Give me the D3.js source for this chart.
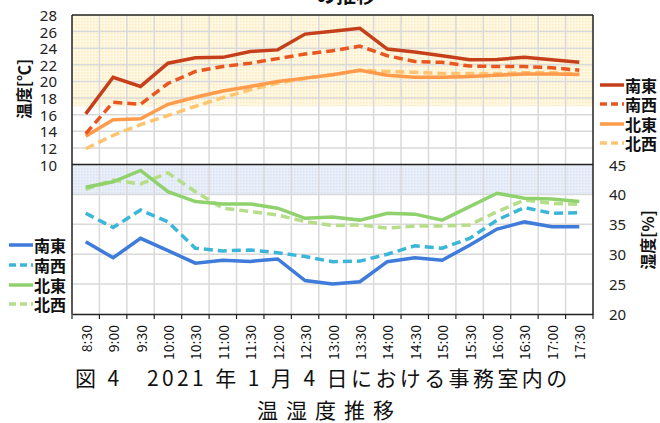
<!DOCTYPE html>
<html>
<head>
<meta charset="utf-8">
<script src="https://cdn.jsdelivr.net/npm/d3@7"></script>
<style>
  body { margin: 0; background: #fff; }
  svg { display: block; }
  .num { font-family: "Noto Sans", "Liberation Sans", sans-serif; font-size: 15px; fill: #222; }
  .jp { font-family: "Noto Sans CJK JP", sans-serif; fill: #111; }
</style>
</head>
<body>
<svg id="chart" width="660" height="423"></svg>
<script>
// Data
const times = ['8:30', '9:00', '9:30', '10:00', '10:30', '11:00', '11:30', '12:00', '12:30', '13:00',
               '13:30', '14:00', '14:30', '15:00', '15:30', '16:00', '16:30', '17:00', '17:30'];

const tempSE = [16.1, 20.5, 19.4, 22.2, 22.85, 22.9, 23.6, 23.8, 25.7, 26.05, 26.4, 23.9, 23.55, 23.1, 22.6, 22.65, 22.9, 22.6, 22.3];
const tempSW = [13.7, 17.5, 17.25, 19.75, 21.2, 21.8, 22.2, 22.75, 23.3, 23.7, 24.25, 23.1, 22.4, 22.3, 21.85, 21.8, 21.8, 21.65, 21.35];
const tempNE = [13.4, 15.4, 15.5, 17.25, 18.1, 18.85, 19.4, 20.0, 20.4, 20.8, 21.35, 20.75, 20.5, 20.5, 20.6, 20.75, 20.9, 20.9, 20.85];
const tempNW = [11.9, 13.5, 14.8, 15.9, 17.0, 18.05, 19.0, 19.8, 20.35, 20.8, 21.35, 21.2, 21.1, 20.95, 20.95, 20.95, 21.05, 21.05, 20.9];

const humSE = [32.1, 29.4, 32.65, 30.6, 28.5, 29.0, 28.8, 29.2, 25.6, 25.0, 25.4, 28.75, 29.4, 29.0, 31.5, 34.2, 35.4, 34.6, 34.6];
const humSW = [36.85, 34.45, 37.4, 35.4, 31.0, 30.55, 30.7, 30.25, 29.6, 28.75, 28.85, 30.0, 31.4, 31.0, 32.65, 35.7, 37.8, 36.85, 36.95];
const humNE = [41.2, 42.1, 44.0, 40.45, 38.8, 38.4, 38.4, 37.7, 36.0, 36.2, 35.7, 36.85, 36.7, 35.7, 37.95, 40.2, 39.35, 39.25, 38.8];
const humNW = [40.85, 42.4, 41.75, 43.6, 40.45, 37.7, 37.15, 36.55, 35.45, 34.8, 34.9, 34.35, 34.7, 34.7, 34.9, 37.1, 39.05, 38.5, 38.35];

const tempTicks = [10, 12, 14, 16, 18, 20, 22, 24, 26, 28];
const humTicks = [20, 25, 30, 35, 40, 45];
const names = ['南東', '南西', '北東', '北西'];

// Layout
const plot = { left: 72, right: 593, top: 15, bottom: 314 };

const svg = d3.select('#chart');

const x = d3.scaleBand().domain(times).range([plot.left, plot.right]);
const yT = d3.scaleLinear().domain([-8, 28]).range([plot.bottom, plot.top]);
const yH = d3.scaleLinear().domain([20, 70]).range([plot.bottom, plot.top]);

// dotted background patterns
const defs = svg.append('defs');
function dotPattern(id, base, dot) {
    const p = defs.append('pattern').attr('id', id)
        .attr('width', 3).attr('height', 3).attr('patternUnits', 'userSpaceOnUse');
    p.append('rect').attr('width', 3).attr('height', 3).attr('fill', base);
    p.append('rect').attr('width', 1.5).attr('height', 1.5).attr('fill', dot);
}
dotPattern('yellowDots', '#FFF8E4', '#FDEBBD');
dotPattern('blueDots', '#E9EFF9', '#D9E3F3');

// comfort bands
svg.append('rect')
    .attr('x', plot.left).attr('width', plot.right - plot.left)
    .attr('y', yT(28)).attr('height', yT(17) - yT(28))
    .attr('fill', 'url(#yellowDots)');
svg.append('rect')
    .attr('x', plot.left).attr('width', plot.right - plot.left)
    .attr('y', yH(45)).attr('height', yH(40) - yH(45))
    .attr('fill', 'url(#blueDots)');

// gridlines
const grid = svg.append('g').attr('stroke', '#D9D9D9').attr('stroke-width', 1.5);
grid.selectAll('.gv')
    .data(times.slice(1))
    .enter().append('line')
    .attr('x1', d => x(d)).attr('x2', d => x(d))
    .attr('y1', plot.top).attr('y2', plot.bottom);
grid.selectAll('.gt')
    .data(tempTicks.filter(t => t > 10 && t < 28))
    .enter().append('line')
    .attr('x1', plot.left).attr('x2', plot.right)
    .attr('y1', d => yT(d)).attr('y2', d => yT(d));
grid.selectAll('.gh')
    .data(humTicks.filter(t => t > 20 && t < 45))
    .enter().append('line')
    .attr('x1', plot.left).attr('x2', plot.right)
    .attr('y1', d => yH(d)).attr('y2', d => yH(d));

// frame
const frame = svg.append('g').attr('stroke', '#222').attr('stroke-width', 1.5).attr('fill', 'none');
frame.append('line').attr('x1', plot.left).attr('x2', plot.right).attr('y1', yT(28)).attr('y2', yT(28));
frame.append('line').attr('x1', plot.left).attr('x2', plot.right).attr('y1', yT(10)).attr('y2', yT(10));
frame.append('line').attr('x1', plot.left).attr('x2', plot.left).attr('y1', plot.top).attr('y2', plot.bottom);
frame.append('line').attr('x1', plot.right).attr('x2', plot.right).attr('y1', plot.top).attr('y2', plot.bottom);

// bottom axis
const xAxis = svg.append('g')
    .attr('transform', `translate(0,${plot.bottom})`)
    .call(d3.axisBottom(x).tickSize(0).tickFormat(''));
xAxis.select('.domain').attr('stroke', '#222').attr('stroke-width', 1.5);
svg.append('g').attr('stroke', '#222').attr('stroke-width', 1.2)
    .selectAll('line')
    .data(times.concat(['end']))
    .enter().append('line')
    .attr('x1', (d, i) => plot.left + i * x.bandwidth())
    .attr('x2', (d, i) => plot.left + i * x.bandwidth())
    .attr('y1', plot.bottom).attr('y2', plot.bottom + 5);

svg.append('g').selectAll('text')
    .data(times)
    .enter().append('text')
    .attr('class', 'jp')
    .attr('font-size', 14)
    .attr('text-anchor', 'end')
    .attr('dominant-baseline', 'central')
    .attr('transform', d => `translate(${x(d) + x.bandwidth() / 2},325) rotate(-90)`)
    .text(d => d);

// y axes labels
svg.append('g').selectAll('text')
    .data(tempTicks)
    .enter().append('text')
    .attr('class', 'num')
    .attr('x', 57).attr('y', d => yT(d))
    .attr('text-anchor', 'end')
    .attr('dominant-baseline', 'central')
    .text(d => d);
svg.append('g').selectAll('text')
    .data(humTicks)
    .enter().append('text')
    .attr('class', 'num')
    .attr('x', 609).attr('y', d => yH(d))
    .attr('dominant-baseline', 'central')
    .text(d => d);

svg.append('text').attr('class', 'jp')
    .attr('font-size', 16).attr('font-weight', 'bold')
    .attr('text-anchor', 'middle').attr('dominant-baseline', 'central')
    .attr('transform', 'translate(23,89) rotate(-90)')
    .text('温度[℃]');
svg.append('text').attr('class', 'jp')
    .attr('font-size', 16).attr('font-weight', 'bold')
    .attr('text-anchor', 'middle').attr('dominant-baseline', 'central')
    .attr('transform', 'translate(647,240) rotate(-90)')
    .text('湿度[%]');

// series
const tempSeries = [
    { name: names[0], values: tempSE, color: '#C5401A', dash: null },
    { name: names[1], values: tempSW, color: '#E9561F', dash: '9,5' },
    { name: names[2], values: tempNE, color: '#FF9B4B', dash: null },
    { name: names[3], values: tempNW, color: '#FFC470', dash: '9,5' }
];
const humSeries = [
    { name: names[0], values: humSE, color: '#3E7BDA', dash: null },
    { name: names[1], values: humSW, color: '#3BB6D9', dash: '9,5' },
    { name: names[2], values: humNE, color: '#8FD16C', dash: null },
    { name: names[3], values: humNW, color: '#B6DD88', dash: '9,5' }
];

function drawSeries(series, yScale) {
    const line = d3.line()
        .x((d, i) => x(times[i]) + x.bandwidth() / 2)
        .y(d => yScale(d));
    svg.append('g').selectAll('path')
        .data(series.slice().reverse())
        .enter().append('path')
        .attr('d', d => line(d.values))
        .attr('fill', 'none')
        .attr('stroke', d => d.color)
        .attr('stroke-width', 3.5)
        .attr('stroke-dasharray', d => d.dash);
}
drawSeries(humSeries, yH);
drawSeries(tempSeries, yT);

// legends
function drawLegend(series, lx, ys) {
    const g = svg.append('g');
    series.forEach((s, i) => {
        g.append('line')
            .attr('x1', lx).attr('x2', lx + 24)
            .attr('y1', ys[i]).attr('y2', ys[i])
            .attr('stroke', s.color).attr('stroke-width', 3.5)
            .attr('stroke-dasharray', s.dash ? '7,4' : null);
        g.append('text').attr('class', 'jp')
            .attr('x', lx + 25).attr('y', ys[i])
            .attr('font-size', 16).attr('font-weight', 'bold')
            .attr('dominant-baseline', 'central')
            .text(s.name);
    });
}
drawLegend(tempSeries, 600, [85, 104, 124, 143]);
drawLegend(humSeries, 9, [245, 265, 285, 304]);

// cut-off title and caption
svg.append('text').attr('class', 'jp')
    .attr('x', 346).attr('y', 3)
    .attr('font-size', 20).attr('font-weight', 'bold')
    .attr('text-anchor', 'middle')
    .text('の推移');

svg.append('text').attr('class', 'jp')
    .attr('x', 75).attr('y', 386)
    .attr('font-size', 21)
    .attr('letter-spacing', 3.4)
    .text('図 4　2021 年 1 月 4 日における事務室内の');
svg.append('text').attr('class', 'jp')
    .attr('x', 257).attr('y', 418)
    .attr('font-size', 21)
    .attr('letter-spacing', 8)
    .text('温湿度推移');
</script>
</body>
</html>
